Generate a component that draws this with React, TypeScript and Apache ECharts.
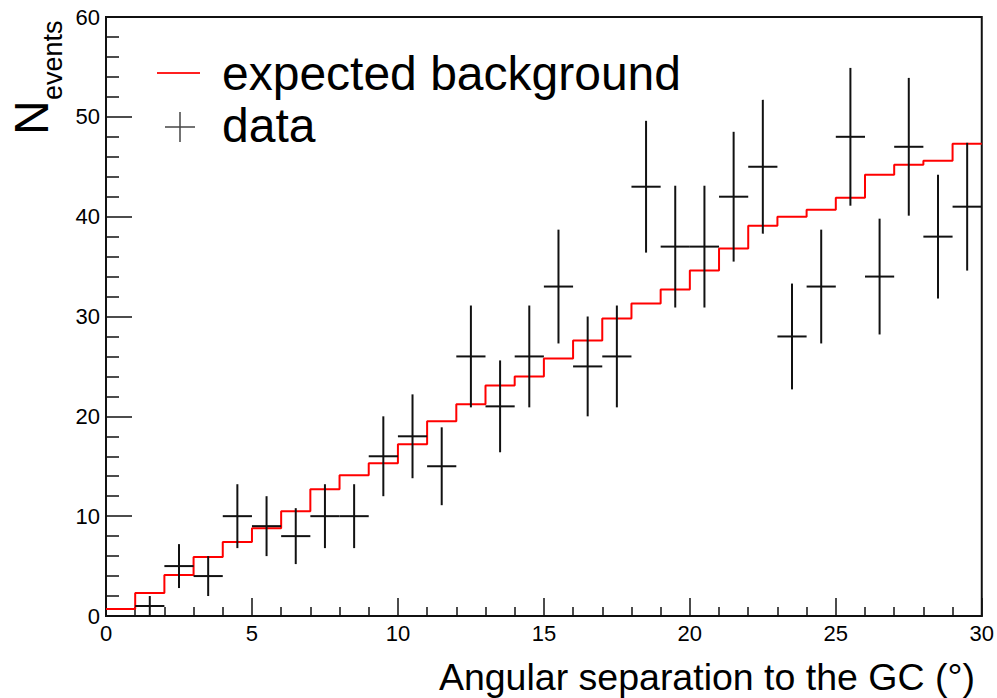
import React, { useEffect, useRef } from "react";
import * as echarts from "echarts";

// Expected background histogram (1° bins, lower edges 0..29)
const bgEdges = [0, 1, 2, 3, 4, 5, 6, 7, 8, 9, 10, 11, 12, 13, 14, 15, 16, 17, 18, 19, 20, 21, 22, 23, 24, 25, 26, 27, 28, 29, 30];
const bgValues = [0.7, 2.3, 4.1, 5.9, 7.4, 8.8, 10.5, 12.7, 14.1, 15.3, 17.2, 19.5, 21.2, 23.1, 24.0, 25.8, 27.6, 29.8, 31.3, 32.7, 34.6, 36.8, 39.1, 40.0, 40.7, 41.9, 44.2, 45.2, 45.6, 47.3];

// Observed data (bin centers)
const dataX = [1.5, 2.5, 3.5, 4.5, 5.5, 6.5, 7.5, 8.5, 9.5, 10.5, 11.5, 12.5, 13.5, 14.5, 15.5, 16.5, 17.5, 18.5, 19.5, 20.5, 21.5, 22.5, 23.5, 24.5, 25.5, 26.5, 27.5, 28.5, 29.5];
const dataY = [1, 5, 4, 10, 9, 8, 10, 10, 16, 18, 15, 26, 21, 26, 33, 25, 26, 43, 37, 37, 42, 45, 28, 33, 48, 34, 47, 38, 41];
const dataErr = [1.0, 2.2, 2.0, 3.2, 3.0, 2.8, 3.2, 3.2, 4.0, 4.2, 3.9, 5.1, 4.6, 5.1, 5.7, 5.0, 5.1, 6.6, 6.1, 6.1, 6.5, 6.7, 5.3, 5.7, 6.9, 5.8, 6.9, 6.2, 6.4];
const binWidth = 1;

const xTitle = "Angular separation to the GC (°)";
const legendBg = "expected background";
const legendData = "data";

const FONT = "'Liberation Sans', Arial, Helvetica, sans-serif";

export default function App() {
  const ref = useRef<HTMLDivElement>(null);
  useEffect(() => {
    if (!ref.current) return;
    const chart = echarts.init(ref.current, null, { renderer: "svg" });

    const stepData: number[][] = bgValues.map((v, i) => [bgEdges[i], v]);
    stepData.push([bgEdges[bgEdges.length - 1], bgValues[bgValues.length - 1]]);

    const pts = dataX.map((x, i) => [x, dataY[i], dataErr[i]]);

    const axisLabel = { color: "#000", fontSize: 22, fontFamily: FONT };
    const lineCol = "#111";

    chart.setOption({
      animation: false,
      backgroundColor: "#fff",
      grid: {
        left: 106,
        top: 17,
        right: 13,
        bottom: 82,
        show: true,
        borderColor: lineCol,
        borderWidth: 2,
        backgroundColor: "transparent",
      },
      xAxis: {
        type: "value",
        min: 0,
        max: 30,
        interval: 5,
        axisLine: { show: true, lineStyle: { color: lineCol, width: 2 } },
        axisTick: { show: true, inside: true, length: 18, lineStyle: { color: lineCol, width: 1.5 } },
        minorTick: { show: true, splitNumber: 5, length: 9, lineStyle: { color: lineCol, width: 1.5 } },
        splitLine: { show: false },
        axisLabel: { ...axisLabel, margin: 6 },
      },
      yAxis: {
        type: "value",
        min: 0,
        max: 60,
        interval: 10,
        axisLine: { show: true, lineStyle: { color: lineCol, width: 2 } },
        axisTick: { show: true, inside: true, length: 26, lineStyle: { color: lineCol, width: 1.5 } },
        minorTick: { show: true, splitNumber: 5, length: 13, lineStyle: { color: lineCol, width: 1.5 } },
        splitLine: { show: false },
        axisLabel: { ...axisLabel, margin: 6 },
      },
      series: [
        {
          name: legendBg,
          type: "line",
          step: "end",
          data: stepData,
          showSymbol: false,
          symbol: "none",
          lineStyle: { color: "#ff0000", width: 2 },
          z: 2,
        },
        {
          name: legendData,
          type: "custom",
          data: pts,
          z: 3,
          renderItem: (params: any, api: any) => {
            const x = api.value(0);
            const y = api.value(1);
            const e = api.value(2);
            const l = api.coord([x - binWidth / 2, y]);
            const r = api.coord([x + binWidth / 2, y]);
            const t = api.coord([x, y + e]);
            const b = api.coord([x, y - e]);
            const style = { stroke: "#111", lineWidth: 2 };
            return {
              type: "group",
              children: [
                { type: "line", shape: { x1: l[0], y1: l[1], x2: r[0], y2: r[1] }, style },
                { type: "line", shape: { x1: t[0], y1: t[1], x2: b[0], y2: b[1] }, style },
              ],
            };
          },
        },
      ],
      graphic: [
        // Legend
        { type: "line", shape: { x1: 157, y1: 73, x2: 200, y2: 73 }, style: { stroke: "#ff2020", lineWidth: 2 } },
        { type: "text", x: 222, y: 73, style: { text: legendBg, font: `48px ${FONT}`, fill: "#000", textAlign: "left", textVerticalAlign: "middle" } },
        { type: "line", shape: { x1: 165, y1: 127, x2: 195, y2: 127 }, style: { stroke: "#444", lineWidth: 1.5 } },
        { type: "line", shape: { x1: 180, y1: 112, x2: 180, y2: 142 }, style: { stroke: "#444", lineWidth: 1.5 } },
        { type: "text", x: 222, y: 125.5, style: { text: legendData, font: `48px ${FONT}`, fill: "#000", textAlign: "left", textVerticalAlign: "middle" } },
        // Y axis title N_events
        { type: "text", x: 31, y: 135, rotation: Math.PI / 2, style: { text: "N", font: `48px ${FONT}`, fill: "#000", textAlign: "left", textVerticalAlign: "middle" } },
        { type: "text", x: 52.5, y: 100, rotation: Math.PI / 2, style: { text: "events", font: `27px ${FONT}`, fill: "#000", textAlign: "left", textVerticalAlign: "middle" } },
        // X axis title
        { type: "text", x: 975, y: 677, style: { text: xTitle, font: `37.5px ${FONT}`, fill: "#000", textAlign: "right", textVerticalAlign: "middle" } },
      ],
    });
    return () => chart.dispose();
  }, []);
  return (
    <div
      ref={ref}
      style={{ position: "absolute", left: 0, top: 0, width: 997, height: 698, background: "#fff" }}
    />
  );
}
